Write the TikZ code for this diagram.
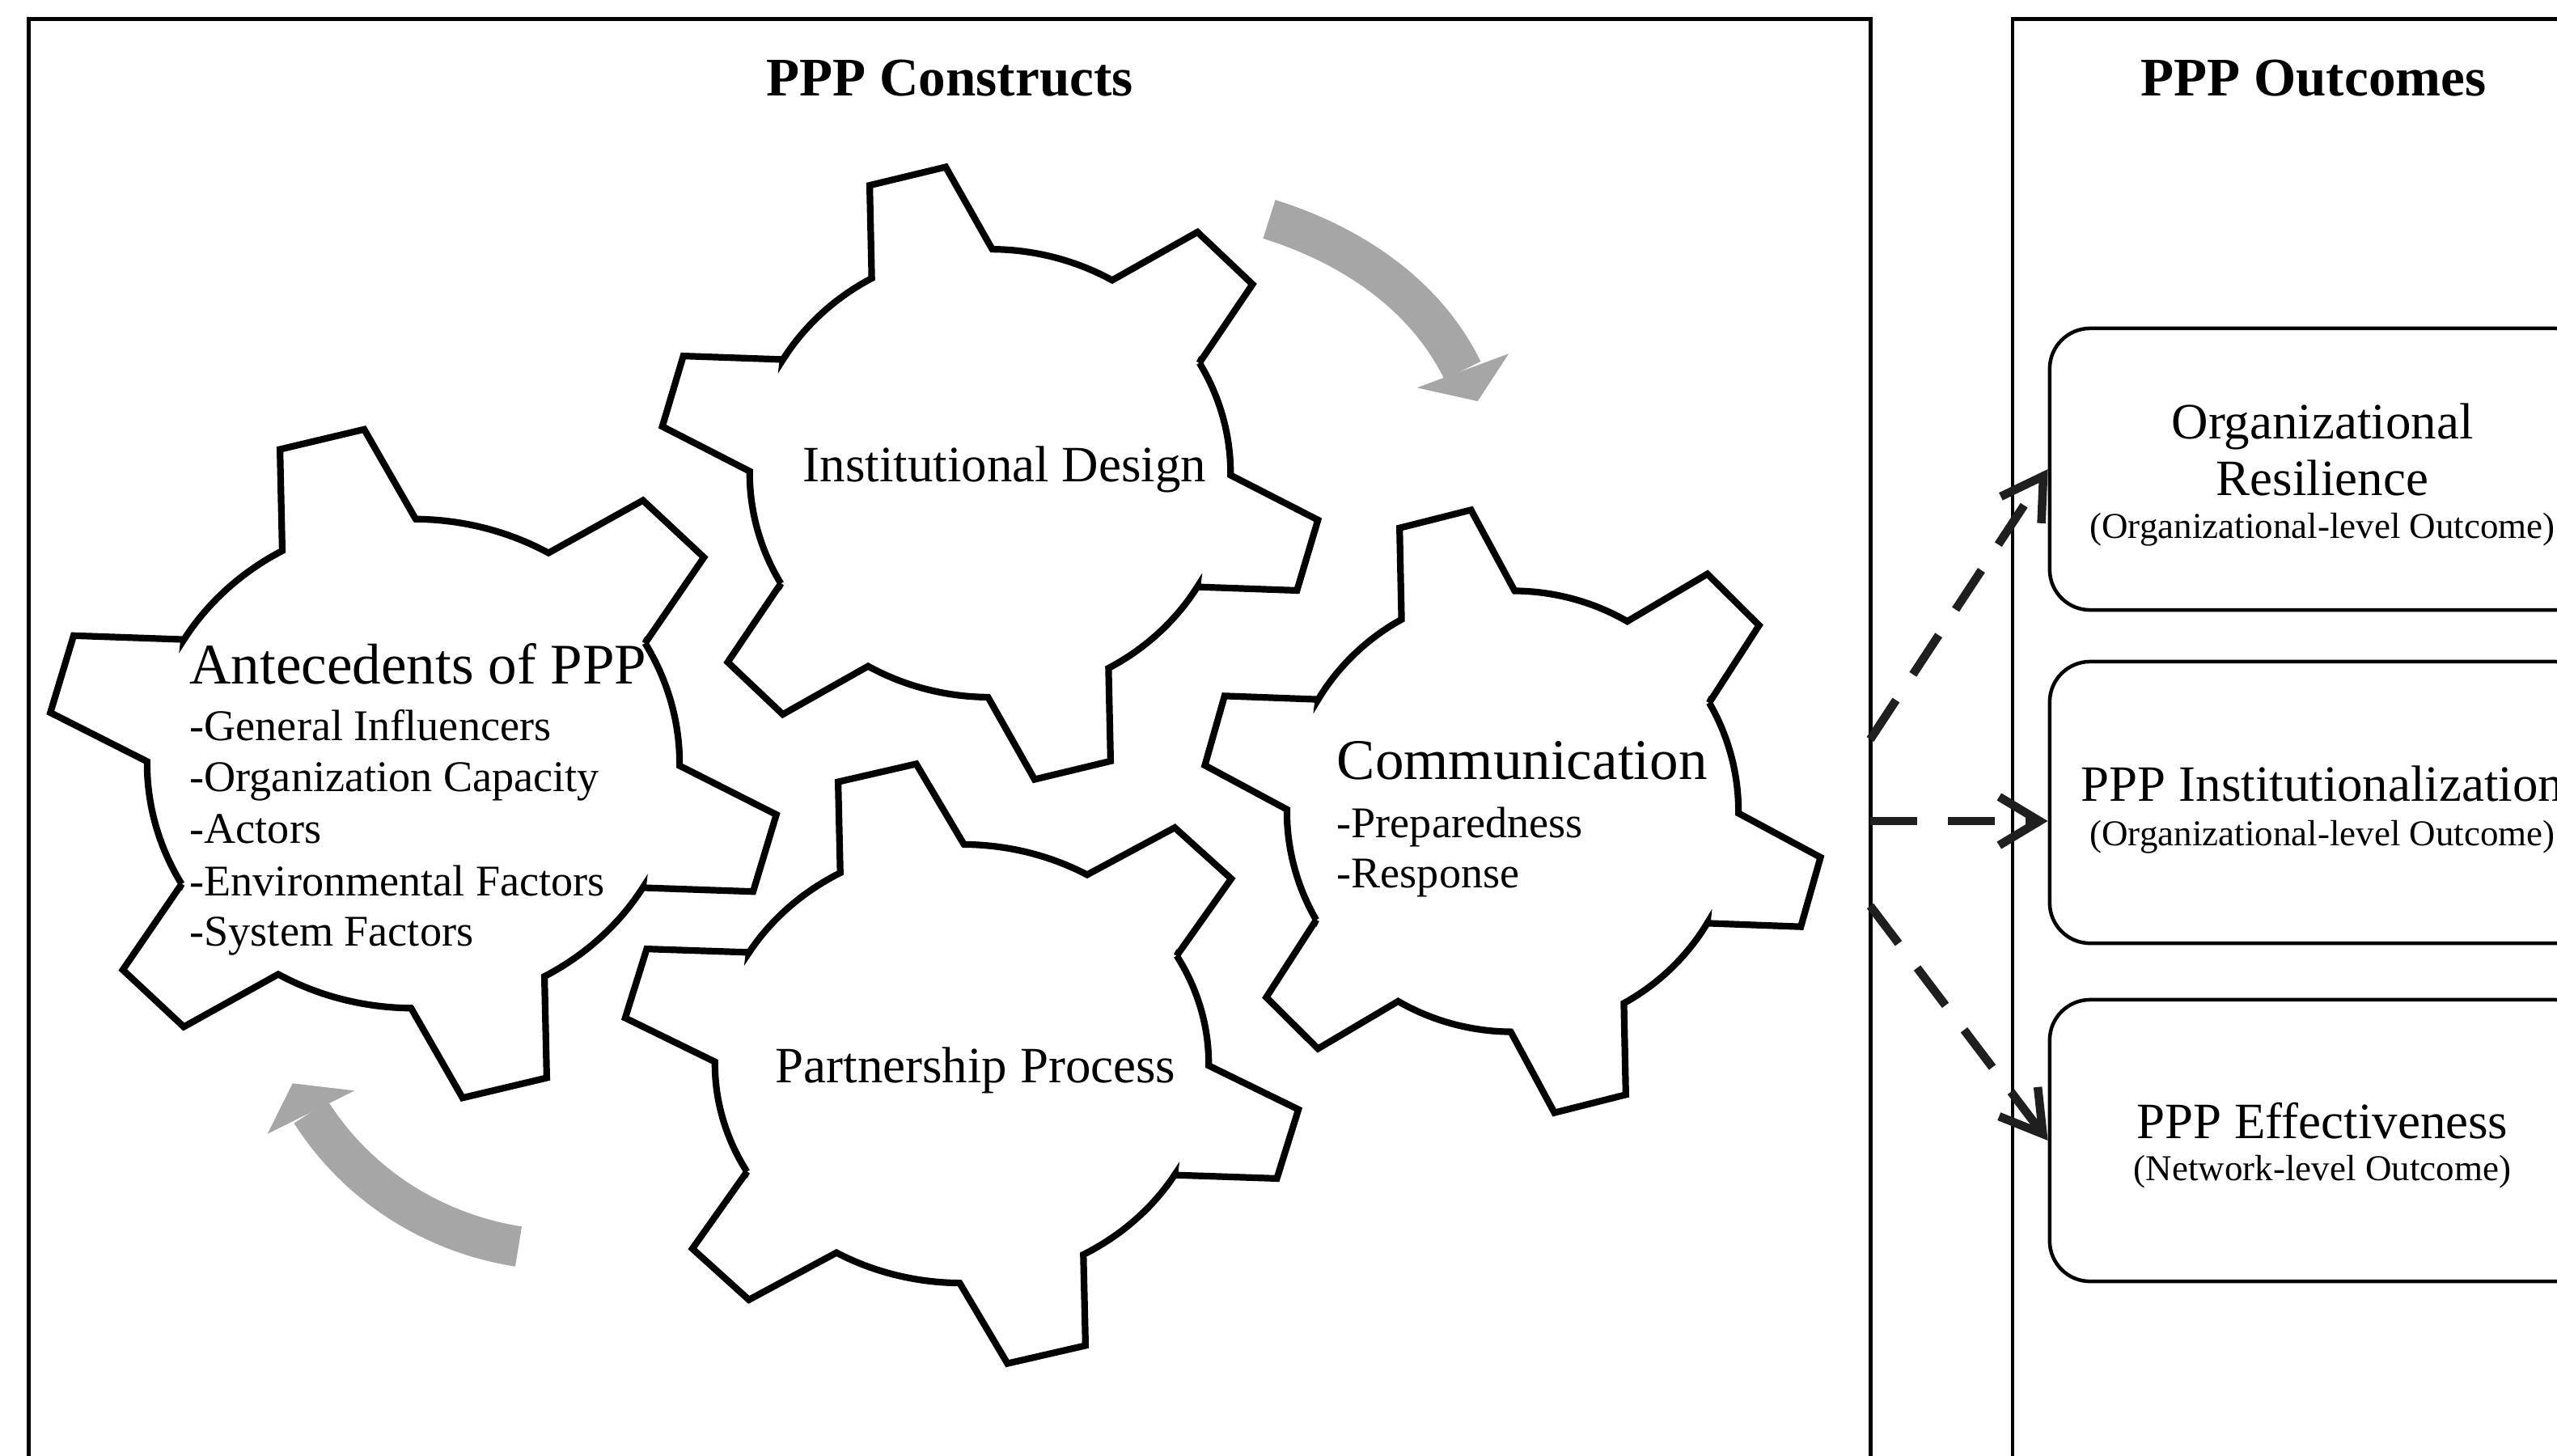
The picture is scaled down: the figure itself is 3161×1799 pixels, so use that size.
\documentclass[tikz,border=0pt]{standalone}
\usepackage{fontspec}
\setmainfont{Liberation Serif}
\usetikzlibrary{arrows.meta}
\definecolor{arrowgray}{RGB}{166,166,166}
\newcommand{\gearshape}{(29.5:0.725) \foreach \c in {44.5,104.5,164.5,224.5,284.5,344.5}{ -- ({\c-15}:0.725) -- ({\c-6.8}:1) -- ({\c+6.8}:1) -- ({\c+15}:0.725) arc[start angle={\c+15}, end angle={\c+45}, radius=0.725]} -- cycle}
\tikzset{
 gearline/.style={draw=black, line width=0.082cm, fill=white, line join=miter},
 framebox/.style={draw=black, line width=0.045cm, inner sep=0pt},
 outbox/.style={draw=black, line width=0.045cm, rounded corners=0.5cm, minimum width=6.74cm, minimum height=3.48cm, inner sep=0pt},
 dasharrow/.style={draw=black!88, line width=0.105cm, dash pattern=on 0.58cm off 0.38cm, -{Straight Barb[length=0.5cm, width=0.6cm]}},
 curvearrow/.style={draw=arrowgray, line width=0.5cm, line cap=butt},
 arrowhead/.style={fill=arrowgray, draw=none},
 title/.style={font=\bfseries\fontsize{19.1}{22}\selectfont, inner sep=0pt, anchor=base},
 geartext/.style={font=\fontsize{17.9}{20}\selectfont, inner sep=0pt, anchor=base},
 gearhead/.style={font=\fontsize{20.2}{23}\selectfont, inner sep=0pt, anchor=base west},
 gearitem/.style={font=\fontsize{15.4}{18}\selectfont, inner sep=0pt, anchor=base west},
 boxtext/.style={font=\fontsize{17.9}{20}\selectfont, inner sep=0pt, anchor=base},
 boxsub/.style={font=\fontsize{12.8}{15}\selectfont, inner sep=0pt, anchor=base},
}
\begin{document}
\begin{tikzpicture}[x=0.01cm, y=-0.01cm]
\useasboundingbox (0,0) rectangle (3161,1799);
\clip (0,0) rectangle (3161,1799);
\fill[white] (0,0) rectangle (3161,1799);

% frames
\node[framebox, minimum width=22.76cm, minimum height=19.76cm] (constructs) at (1174,1012) {};
\node[framebox, minimum width=7.44cm, minimum height=19.76cm] (outcomes) at (2860,1012) {};
\node[title] (t1) at (1174,118) {PPP Constructs};
\node[title] (t2) at (2860,118) {PPP Outcomes};

% gears
\begin{scope}[shift={(511,944)}, xscale=454, yscale=-417]
 \draw[gearline] \gearshape;
\end{scope}
\begin{scope}[shift={(1224,585)}, xscale=410, yscale=-382]
 \draw[gearline] \gearshape;
\end{scope}
\begin{scope}[shift={(1870,1003)}, xscale=385, yscale=-376]
 \draw[gearline] \gearshape;
\end{scope}
\begin{scope}[shift={(1189,1315)}, xscale=421, yscale=-374]
 \draw[gearline] \gearshape;
\end{scope}

% gear texts
\node[geartext] (idt) at (1242,595) {Institutional Design};
\node[geartext] (ppt) at (1206,1338) {Partnership Process};
\node[gearhead] (antt) at (234,845) {Antecedents of PPP};
\node[gearitem] (ant1) at (234,915) {-General Influencers};
\node[gearitem] (ant2) at (234,978) {-Organization Capacity};
\node[gearitem] (ant3) at (234,1042) {-Actors};
\node[gearitem] (ant4) at (234,1107) {-Environmental Factors};
\node[gearitem] (ant5) at (234,1169) {-System Factors};
\node[gearhead] (comt) at (1652,963) {Communication};
\node[gearitem] (com1) at (1652,1035) {-Preparedness};
\node[gearitem] (com2) at (1652,1097) {-Response};

% gray rotation arrows
\coordinate (ga1s) at (1569,271);
\coordinate (ga1e) at (1808,458);
\draw[curvearrow] (ga1s) .. controls (1669.6,302.4) and (1761.8,363.3) .. (ga1e);
\fill[arrowhead] (1751.7,479.3) -- (1826.7,496) -- (1865,437.3) -- cycle;
\coordinate (ga2s) at (641,1541);
\coordinate (ga2e) at (384.5,1375);
\draw[curvearrow] (ga2s) .. controls (535.8,1524.5) and (442.3,1465.5) .. (ga2e);
\fill[arrowhead] (330.7,1401.7) -- (361.7,1339.3) -- (438.3,1348.3) -- cycle;

% outcome boxes
\node[outbox] (box1) at (2871,580) {};
\node[outbox] (box2) at (2871,992) {};
\node[outbox] (box3) at (2871,1410) {};
\node[boxtext] (b1a) at (2871,542) {Organizational};
\node[boxtext] (b1b) at (2871,612) {Resilience};
\node[boxsub] (b1c) at (2871,665) {(Organizational-level Outcome)};
\node[boxtext] (b2a) at (2871,990) {PPP Institutionalization};
\node[boxsub] (b2b) at (2871,1045) {(Organizational-level Outcome)};
\node[boxtext] (b3a) at (2871,1407) {PPP Effectiveness};
\node[boxsub] (b3b) at (2871,1459) {(Network-level Outcome)};

% dashed arrows
\coordinate (s1) at (2312,914);
\coordinate (s2) at (2312,1015);
\coordinate (s3) at (2312,1120);
\draw[dasharrow] (s1) -- (box1.west);
\draw[dasharrow] (s2) -- (s2 -| box2.west);
\draw[dasharrow] (s3) -- (box3.west);
\end{tikzpicture}
\end{document}
